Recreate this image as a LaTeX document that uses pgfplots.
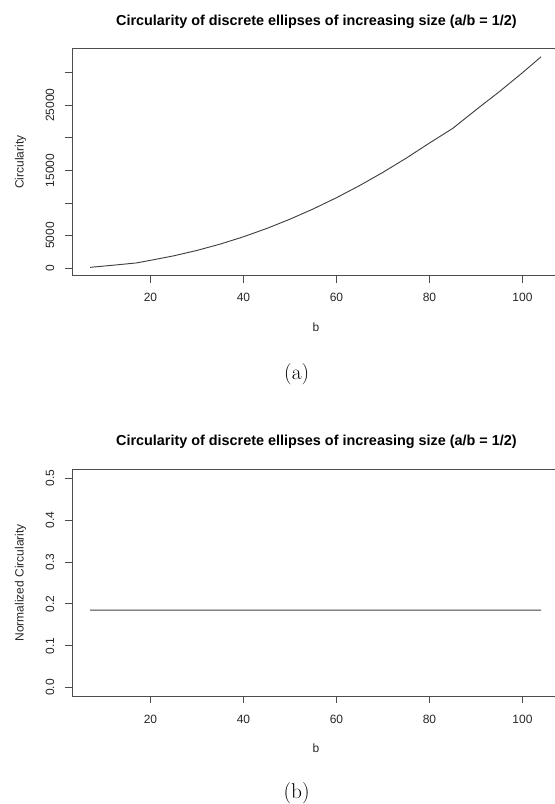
\documentclass[border=0pt]{standalone}
\usepackage{fontspec}
\newfontfamily\helv{Liberation Sans}
\usepackage{pgfplots}
\pgfplotsset{compat=1.18}
\pgfplotsset{
  rplot/.style={
    scale only axis,
    width=362.25pt,
    anchor=south west,
    xmin=3.12, xmax=106.99,
    axis x line*=box, axis y line*=left,
    xtick pos=left, ytick pos=left,
    tick align=outside,
    major tick length=5.5pt,
    axis line style={black!70, line width=0.6pt},
    every tick/.style={black!70, line width=0.6pt},
    scaled y ticks=false,
    xtick={20,40,60,80,100},
    xticklabels={20,40,60,80,100},
    ticklabel style={font=\helv\fontsize{9}{10}\selectfont, text=black!85},
    yticklabel style={xshift=-11pt, rotate=90, anchor=center, inner sep=0pt},
    xlabel style={font=\helv\fontsize{9}{10}\selectfont, text=black!85},
    every axis y label/.style={at={(axis description cs:-0.1066,0.5)}, rotate=90, anchor=center, font=\helv\fontsize{9}{10}\selectfont, text=black!85},
    title style={font=\helv\bfseries\fontsize{10.8}{13}\selectfont, anchor=base, text=black},
    xlabel={b},
    clip=false,
  }
}
\begin{document}
\begin{tikzpicture}
\path[use as bounding box] (0,0) rectangle (416.25pt,-603pt);
% (a)
\begin{axis}[rplot,
  at={(54pt,-206.775pt)},
  height=170.55pt,
  ymin=-1183, ymax=33748,
  ytick={0,5000,10000,15000,20000,25000,30000},
  yticklabels={0,5000,,15000,,25000,},
  ylabel={Circularity},
  title={Circularity of discrete ellipses of increasing size (a/b = 1/2)},
  title style={at={(axis description cs:0.506,1)}, yshift=11.3pt},
  xticklabel style={anchor=base, yshift=-14.2pt},
  xlabel style={at={(axis description cs:0.505,0)}, anchor=base, yshift=-41.5pt},
]
\addplot[black!75, line width=0.7pt, line join=round] coordinates {
(7,100) (10,300) (13,500) (17,780) (20,1180) (25,1870) (30,2700) (35,3675)
(40,4800) (45,6075) (50,7500) (55,9075) (60,10800) (65,12675) (70,14700)
(75,16875) (80,19200) (85,21450) (90,24300) (95,27075) (100,30000) (104,32450)
};
\end{axis}
\node[anchor=base, font=\fontsize{16}{18}\selectfont] at (222.5pt,-284.5pt) {(a)};
% (b)
\begin{axis}[rplot,
  at={(54pt,-522pt)},
  height=169.725pt,
  ymin=-0.02, ymax=0.52,
  ytick={0,0.1,0.2,0.3,0.4,0.5},
  yticklabels={0.0,0.1,0.2,0.3,0.4,0.5},
  ylabel={Normalized Circularity},
  title={Circularity of discrete ellipses of increasing size (a/b = 1/2)},
  title style={at={(axis description cs:0.506,1)}, yshift=12.4pt},
  xticklabel style={anchor=base, yshift=-15pt},
  xlabel style={at={(axis description cs:0.505,0)}, anchor=base, yshift=-42.1pt},
]
\addplot[black!75, line width=0.7pt, line join=round] coordinates {
(7,0.1848) (17,0.1848) (30,0.1848) (37,0.1848) (42,0.1848) (62,0.1849) (85,0.1848) (104,0.1849)
};
\end{axis}
\node[anchor=base, font=\fontsize{16}{18}\selectfont] at (222.5pt,-598.9pt) {(b)};
\end{tikzpicture}
\end{document}
